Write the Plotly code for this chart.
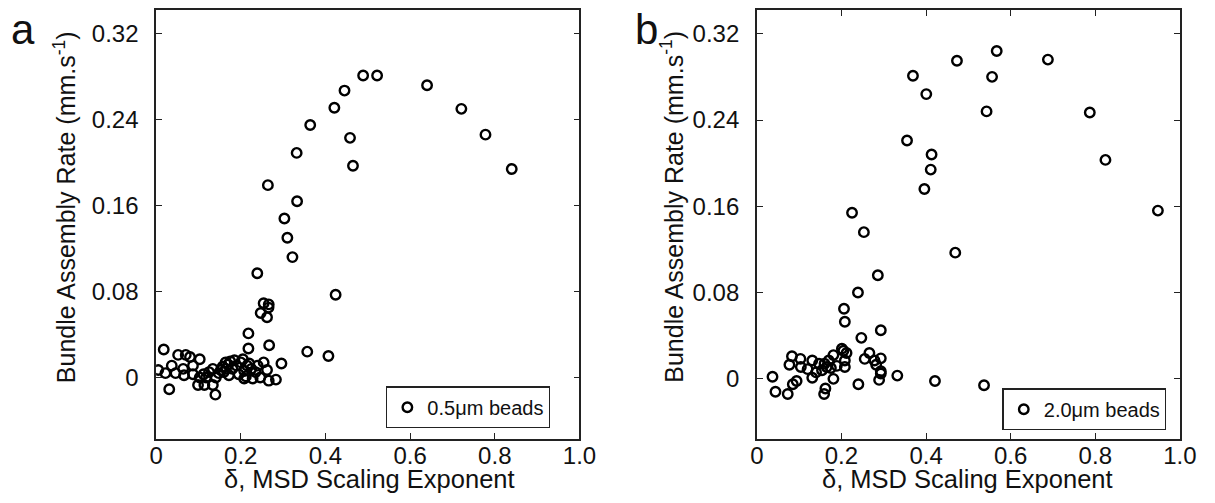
import plotly.graph_objects as go

# ---------------- data ----------------
a_delta = [0.264, 0.332, 0.364, 0.421, 0.445, 0.489, 0.522, 0.640, 0.721, 0.778, 0.840,
           0.458, 0.465, 0.333, 0.303, 0.310, 0.322, 0.239, 0.424, 0.254, 0.266, 0.2655,
           0.247, 0.262, 0.218, 0.218, 0.267, 0.357, 0.407, 0.296, 0.283,
           0.018, 0.052, 0.070, 0.080, 0.103, 0.005, 0.022, 0.037, 0.046, 0.064, 0.066,
           0.087, 0.087, 0.103, 0.099, 0.114, 0.118, 0.134, 0.141, 0.134, 0.153, 0.031,
           0.140, 0.164,
           0.160, 0.170, 0.175, 0.180, 0.185, 0.190, 0.195, 0.200, 0.205, 0.208, 0.212,
           0.215, 0.220, 0.225, 0.228, 0.208, 0.172, 0.165, 0.235, 0.246, 0.254, 0.262,
           0.266, 0.240, 0.157, 0.148, 0.125, 0.112]
a_rate = [0.179, 0.209, 0.235, 0.251, 0.267, 0.281, 0.281, 0.272, 0.250, 0.226, 0.194,
          0.223, 0.197, 0.164, 0.148, 0.130, 0.112, 0.097, 0.077, 0.069, 0.068, 0.065,
          0.060, 0.056, 0.041, 0.027, 0.030, 0.024, 0.020, 0.013, -0.002,
          0.026, 0.021, 0.021, 0.019, 0.017, 0.007, 0.004, 0.011, 0.004, 0.008, 0.002,
          0.011, 0.003, 0.000, -0.007, -0.007, 0.000, 0.008, 0.000, -0.007, 0.007, -0.011,
          -0.016, 0.014,
          0.005, 0.012, 0.015, 0.008, 0.016, 0.011, 0.003, 0.014, 0.017, 0.006, 0.001,
          0.011, 0.013, 0.008, -0.001, -0.001, 0.002, 0.008, 0.005, 0.000, 0.014, 0.007,
          -0.003, 0.011, 0.010, 0.004, 0.005, 0.003]

b_delta = [0.225, 0.253, 0.355, 0.369, 0.4005, 0.413, 0.411, 0.396, 0.473, 0.543, 0.556,
           0.567, 0.688, 0.787, 0.824, 0.948, 0.469,
           0.286, 0.239, 0.206, 0.208, 0.293, 0.247, 0.332, 0.421, 0.537,
           0.037, 0.044, 0.073, 0.159, 0.240, 0.083, 0.103, 0.077, 0.104, 0.131, 0.131,
           0.085, 0.094, 0.162, 0.181, 0.181, 0.189, 0.201, 0.147, 0.160, 0.170, 0.154,
           0.120, 0.2045, 0.212, 0.208, 0.208, 0.255, 0.266, 0.278, 0.293, 0.282, 0.293,
           0.293, 0.289, 0.140, 0.165, 0.175]
b_rate = [0.154, 0.136, 0.221, 0.281, 0.264, 0.208, 0.194, 0.176, 0.295, 0.248, 0.280,
          0.304, 0.296, 0.247, 0.203, 0.156, 0.117,
          0.096, 0.080, 0.065, 0.053, 0.045, 0.038, 0.003, -0.002, -0.006,
          0.002, -0.012, -0.014, -0.014, -0.005, 0.021, 0.0185, 0.013, 0.011, 0.017, 0.001,
          -0.005, -0.002, -0.009, 0.000, 0.022, 0.012, 0.028, 0.014, 0.014, 0.017, 0.008,
          0.009, 0.026, 0.024, 0.017, 0.011, 0.0185, 0.024, 0.017, 0.019, 0.013, 0.007,
          0.005, -0.001, 0.006, 0.011, 0.010]

x_tickvals = [0, 0.2, 0.4, 0.6, 0.8, 1.0]
x_ticktext = ["0", "0.2", "0.4", "0.6", "0.8", "1.0"]
y_tickvals = [0, 0.08, 0.16, 0.24, 0.32]
y_ticktext = ["0", "0.08", "0.16", "0.24", "0.32"]
top_a_tickvals = [0.2, 0.4, 0.6, 0.8, 1.0]

# ---------------- figure ----------------
# page body has an 8px margin; size the figure so it fits the 1215x503 window exactly
OFF = 8
W, H = 1215 - 2 * OFF, 503 - 2 * OFF
AX = "#222222"
FONT = "Liberation Sans, Arial, sans-serif"

marker = dict(symbol="circle-open", size=9.5, color="black", line=dict(width=2.4, color="black"))

fig = go.Figure()
fig.add_trace(go.Scatter(x=a_delta, y=a_rate, mode="markers", marker=marker,
                         name="0.5μm beads", xaxis="x", yaxis="y", legend="legend"))
fig.add_trace(go.Scatter(x=b_delta, y=b_rate, mode="markers", marker=marker,
                         name="2.0μm beads", xaxis="x2", yaxis="y2", legend="legend2"))


def px(x):
    return (x - OFF) / W


def py(y):
    return min(1.0, max(0.0, 1 - (y - OFF) / H))


ydom = [py(439), py(8)]
common_ax = dict(showgrid=False, zeroline=False, showline=True, linecolor=AX, linewidth=1.5,
                 ticks="inside", ticklen=6, tickwidth=1.3, tickcolor=AX,
                 tickfont=dict(family=FONT, size=24, color="#111"))

fig.update_layout(
    width=W, height=H, margin=dict(l=0, r=0, t=0, b=0),
    paper_bgcolor="white", plot_bgcolor="white",
    font=dict(family=FONT, color="#111"),
    xaxis=dict(domain=[px(152), px(584)], range=[0, 1], anchor="y",
               tickvals=x_tickvals, ticktext=x_ticktext, mirror=True,
               ticklabelstandoff=-6, **common_ax),
    yaxis=dict(domain=ydom, range=[-0.0575, 0.342], anchor="x",
               tickvals=y_tickvals, ticktext=y_ticktext, mirror="ticks",
               ticklabelstandoff=11, **common_ax),
    xaxis3=dict(overlaying="x", side="top", anchor="y", range=[0, 1.2],
                tickvals=top_a_tickvals, showticklabels=False, showgrid=False,
                zeroline=False, showline=False, ticks="inside", ticklen=6,
                tickwidth=1.3, tickcolor=AX),
    xaxis2=dict(domain=[px(765), px(1196.7)], range=[0, 1], anchor="y2",
                tickvals=x_tickvals, ticktext=x_ticktext, mirror="ticks",
                ticklabelstandoff=-6, **common_ax),
    yaxis2=dict(domain=ydom, range=[-0.056, 0.342], anchor="x2",
                tickvals=y_tickvals, ticktext=y_ticktext, mirror="ticks",
                ticklabelstandoff=11, **common_ax),
    legend=dict(x=px(554), y=py(386), xanchor="right", yanchor="top",
                bordercolor="#222", borderwidth=1.3, bgcolor="white",
                font=dict(family=FONT, size=20, color="#111"),
                itemwidth=30, tracegroupgap=0),
    legend2=dict(x=px(1183), y=py(388), xanchor="right", yanchor="top",
                 bordercolor="#222", borderwidth=1.3, bgcolor="white",
                 font=dict(family=FONT, size=20, color="#111"),
                 itemwidth=30, tracegroupgap=0),
    showlegend=True,
)

ytitle = "Bundle Assembly Rate (mm.s<sup>-1</sup>)"
xtitle = "δ, MSD Scaling Exponent"
annotations = [
    dict(text="a", x=px(16), y=py(28), xref="paper", yref="paper", showarrow=False,
         font=dict(family=FONT, size=42, color="#111"), xanchor="center", yanchor="middle"),
    dict(text="b", x=px(652), y=py(28), xref="paper", yref="paper", showarrow=False,
         font=dict(family=FONT, size=42, color="#111"), xanchor="center", yanchor="middle"),
    dict(text=ytitle, x=px(59), y=py(206), xref="paper", yref="paper", showarrow=False,
         textangle=-90, font=dict(family=FONT, size=25, color="#111"),
         xanchor="center", yanchor="middle"),
    dict(text=ytitle, x=px(679), y=py(206), xref="paper", yref="paper", showarrow=False,
         textangle=-90, font=dict(family=FONT, size=25, color="#111"),
         xanchor="center", yanchor="middle"),
    dict(text=xtitle, x=px(370), y=py(479), xref="paper", yref="paper", showarrow=False,
         font=dict(family=FONT, size=25.5, color="#111"), xanchor="center", yanchor="middle"),
    dict(text=xtitle, x=px(980), y=py(479), xref="paper", yref="paper", showarrow=False,
         font=dict(family=FONT, size=25.5, color="#111"), xanchor="center", yanchor="middle"),
]
fig.update_layout(annotations=annotations)

fig.write_html("out.html")
